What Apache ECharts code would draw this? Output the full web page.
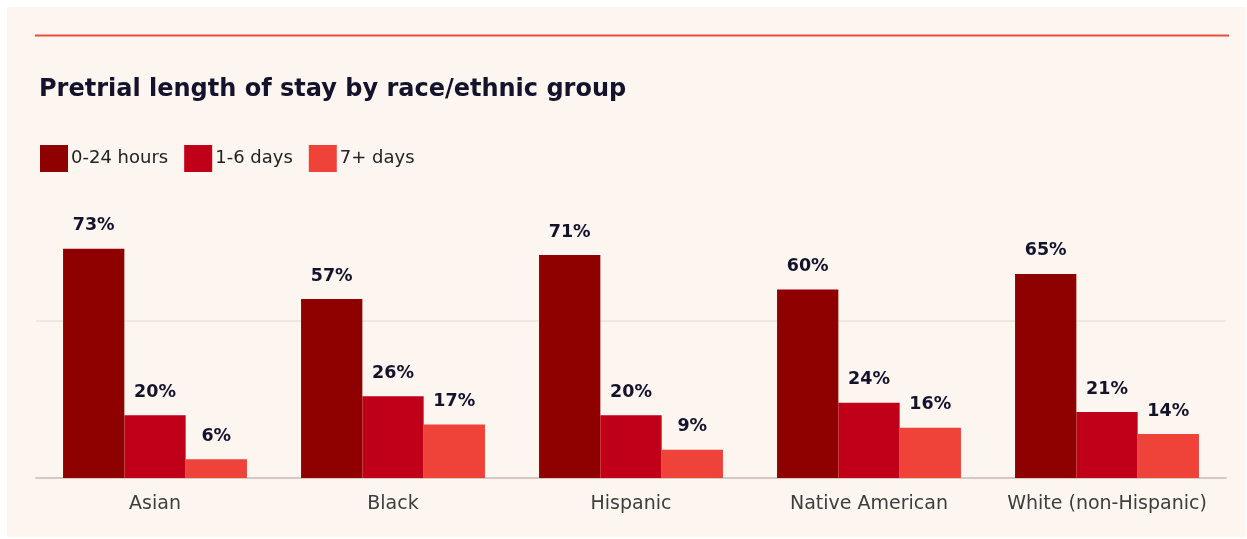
<!DOCTYPE html>
<html><head><meta charset="utf-8">
<script src="https://cdn.jsdelivr.net/npm/echarts@6/dist/echarts.min.js"></script>
<style>
html,body{margin:0;padding:0;background:#ffffff;}
#panel{position:absolute;left:7px;top:7px;width:1239px;height:530px;background:#fdf5f0;}
#chart{position:absolute;left:0;top:0;width:1247px;height:539px;}
</style></head>
<body>
<div id="panel"></div>
<div id="chart"></div>
<script>
const categories = ['Asian', 'Black', 'Hispanic', 'Native American', 'White (non-Hispanic)'];
const seriesNames = ['0-24 hours', '1-6 days', '7+ days'];
const hours0to24 = [73, 57, 71, 60, 65];
const days1to6 = [20, 26, 20, 24, 21];
const days7plus = [6, 17, 9, 16, 14];
const colors = ['#8f0000', '#c00018', '#ef4238'];

const font = '"DejaVu Sans", sans-serif';
const chart = echarts.init(document.getElementById('chart'), null, {renderer: 'canvas'});
function mk(name, data, color) {
  return {
    name: name, type: 'bar', data: data,
    barWidth: 61.3, barGap: '0%',
    itemStyle: {color: color},
    label: {show: true, position: 'top', distance: 14, formatter: '{c}%',
      fontFamily: font, fontWeight: 'bold', fontSize: 17.5, color: '#14132b'}
  };
}
chart.setOption({
  backgroundColor: 'transparent',
  animation: false,
  title: {text: 'Pretrial length of stay by race/ethnic group', left: 34, top: 73,
    textStyle: {fontFamily: font, fontWeight: 'bold', fontSize: 24, color: '#14132b'}},
  legend: {left: 35, top: 140, itemWidth: 28, itemHeight: 27, itemGap: 16, icon: 'rect',
    textStyle: {fontFamily: font, fontSize: 18, color: '#222', padding: [0, 0, 0, -2]},
    data: seriesNames},
  graphic: [{type: 'line', shape: {x1: 35, y1: 35.5, x2: 1229, y2: 35.5},
    style: {stroke: '#ee4a3f', lineWidth: 2}}],
  grid: {left: 36, right: 21, top: 164, bottom: 61},
  xAxis: {type: 'category', data: categories,
    axisLine: {lineStyle: {color: '#d8c8c4', width: 2}},
    axisTick: {show: false},
    axisLabel: {interval: 0, fontFamily: font, fontSize: 19, color: '#3d3d3d', margin: 17}},
  yAxis: {type: 'value', min: 0, max: 100, interval: 50,
    axisLabel: {show: false}, axisLine: {show: false}, axisTick: {show: false},
    splitLine: {lineStyle: {color: ['transparent', '#ede2dc', 'transparent'], width: 1.5}}},
  series: [mk(seriesNames[0], hours0to24, colors[0]), mk(seriesNames[1], days1to6, colors[1]), mk(seriesNames[2], days7plus, colors[2])]
});
</script>
</body></html>
